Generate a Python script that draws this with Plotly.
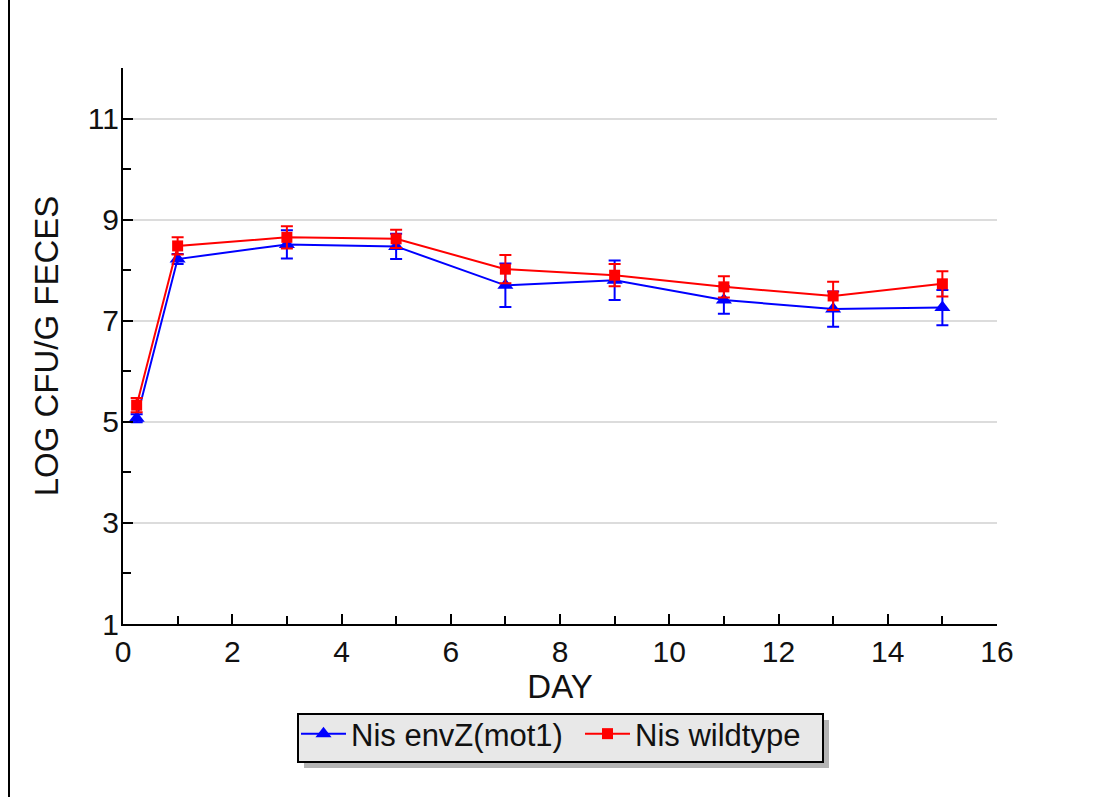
import plotly.graph_objects as go

days = [0.25, 1, 3, 5, 7, 9, 11, 13, 15]
envz_mean = [5.07, 8.22, 8.51, 8.47, 7.70, 7.80, 7.41, 7.23, 7.26]
envz_err = [0.08, 0.10, 0.28, 0.25, 0.43, 0.39, 0.27, 0.35, 0.35]
wt_mean = [5.33, 8.48, 8.65, 8.62, 8.02, 7.90, 7.67, 7.49, 7.73]
wt_err = [0.14, 0.17, 0.22, 0.18, 0.28, 0.22, 0.21, 0.28, 0.25]
names = ["Nis envZ(mot1)", "Nis wildtype"]
y_ticks = [1, 3, 5, 7, 9, 11]
x_ticks = [0, 2, 4, 6, 8, 10, 12, 14, 16]

FONT = "Liberation Sans, Arial, sans-serif"

fig = go.Figure()
fig.add_trace(go.Scatter(
    x=days, y=envz_mean, name=names[0], mode="lines+markers",
    line=dict(color="#0000ff", width=2),
    marker=dict(symbol="triangle-up", size=14, color="#0000ff"),
    error_y=dict(type="data", array=envz_err, color="#0000ff", thickness=2, width=6),
))
fig.add_trace(go.Scatter(
    x=days, y=wt_mean, name=names[1], mode="lines+markers",
    line=dict(color="#ff0000", width=2),
    marker=dict(symbol="square", size=11, color="#ff0000"),
    error_y=dict(type="data", array=wt_err, color="#ff0000", thickness=2, width=6),
))

L, R, T, B = 123, 110, 68, 173
W, H = 1107, 797
pw, ph = W - L - R, H - T - B

def px_x(p):
    return (p - L) / pw

def px_y(p):
    return (H - B - p) / ph

# page border line at left
fig.add_shape(type="line", xref="paper", yref="paper",
              x0=px_x(9), x1=px_x(9), y0=px_y(797), y1=px_y(0),
              line=dict(color="black", width=2))
# legend shadow and box
fig.add_shape(type="rect", xref="paper", yref="paper",
              x0=px_x(304), x1=px_x(829), y0=px_y(768), y1=px_y(720),
              fillcolor="#b4b4b4", line=dict(width=0))
fig.add_shape(type="rect", xref="paper", yref="paper",
              x0=px_x(298), x1=px_x(823), y0=px_y(762), y1=px_y(714),
              fillcolor="#e8e8e8", line=dict(color="black", width=2))

fig.update_layout(
    width=W, height=H,
    margin=dict(l=L, r=R, t=T, b=B, pad=0),
    paper_bgcolor="white", plot_bgcolor="white",
    font=dict(family=FONT, size=28, color="#111111"),
    showlegend=True,
    legend=dict(orientation="h", x=px_x(296), xanchor="left",
                y=px_y(707), yanchor="top",
                bgcolor="rgba(0,0,0,0)", borderwidth=0,
                font=dict(family=FONT, size=31, color="#111111"),
                itemwidth=45, entrywidth=224),
    xaxis=dict(range=[0, 16], tickvals=x_ticks, ticks="inside", ticklen=10,
               tickwidth=1.5, tickcolor="black",
               minor=dict(dtick=1, tick0=0, ticks="inside", ticklen=8, tickcolor="black", tickwidth=1.5),
               showline=True, linecolor="black", linewidth=2, showgrid=False,
               zeroline=False, tickfont=dict(size=30),
               title=dict(text="DAY", font=dict(size=33), standoff=0)),
    yaxis=dict(range=[1, 12], tickvals=y_ticks, ticks="inside", ticklen=10,
               tickwidth=1.5, tickcolor="black",
               minor=dict(dtick=1, tick0=0, ticks="inside", ticklen=8, tickcolor="black", tickwidth=1.5),
               showline=True, linecolor="black", linewidth=2,
               showgrid=True, gridcolor="#dcdcdc", gridwidth=1.5,
               zeroline=False, tickfont=dict(size=30), ticklabelstandoff=-4,
               title=dict(text="LOG CFU/G FECES", font=dict(size=33), standoff=19)),
)

fig.write_html("out.html")
